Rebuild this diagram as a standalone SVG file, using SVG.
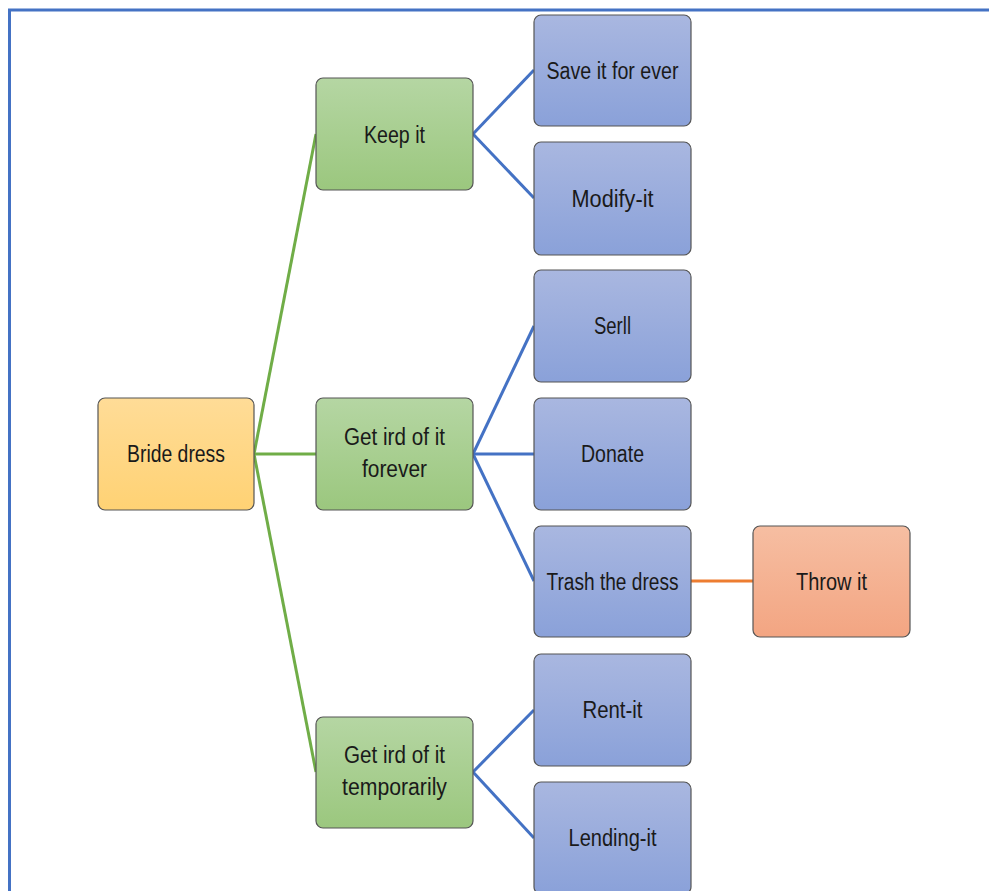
<svg xmlns="http://www.w3.org/2000/svg" width="989" height="891" viewBox="0 0 989 891">
<defs>
<linearGradient id="gy" x1="0" y1="0" x2="0" y2="1"><stop offset="0" stop-color="#FFDC97"/><stop offset="1" stop-color="#FFD274"/></linearGradient>
<linearGradient id="gg" x1="0" y1="0" x2="0" y2="1"><stop offset="0" stop-color="#B5D6A3"/><stop offset="1" stop-color="#9BC77E"/></linearGradient>
<linearGradient id="gb" x1="0" y1="0" x2="0" y2="1"><stop offset="0" stop-color="#A9B7E0"/><stop offset="1" stop-color="#8AA1D9"/></linearGradient>
<linearGradient id="go" x1="0" y1="0" x2="0" y2="1"><stop offset="0" stop-color="#F6BEA2"/><stop offset="1" stop-color="#F3A582"/></linearGradient>
</defs>
<style>
.n{stroke:#555555;stroke-width:1.2}
.t{font-family:"Liberation Sans",Arial,sans-serif;font-size:23px;fill:#1a1a1a;text-anchor:middle}
.cg{stroke:#70AD47;stroke-width:3;fill:none}
.cb{stroke:#4472C4;stroke-width:3;fill:none}
.co{stroke:#ED7D31;stroke-width:3;fill:none}
</style>
<rect width="989" height="891" fill="#ffffff"/>
<g id="frame">
<line x1="8" y1="10" x2="989" y2="10" stroke="#4472C4" stroke-width="3"/>
<line x1="9.5" y1="9" x2="9.5" y2="891" stroke="#4472C4" stroke-width="3"/>
</g>
<g id="connectors">
<line class="cg" x1="254" y1="454" x2="316" y2="134"/>
<line class="cg" x1="254" y1="454" x2="316" y2="454"/>
<line class="cg" x1="254" y1="454" x2="316" y2="772"/>
<line class="cb" x1="473" y1="134" x2="534" y2="70"/>
<line class="cb" x1="473" y1="134" x2="534" y2="198"/>
<line class="cb" x1="473" y1="454" x2="534" y2="326"/>
<line class="cb" x1="473" y1="454" x2="534" y2="454"/>
<line class="cb" x1="473" y1="454" x2="534" y2="581"/>
<line class="cb" x1="473" y1="772" x2="534" y2="710"/>
<line class="cb" x1="473" y1="772" x2="534" y2="838"/>
<line class="co" x1="691" y1="581" x2="753" y2="581"/>
</g>
<g id="bride-dress"><rect class="n" x="98" y="398" width="156" height="112" rx="7" fill="url(#gy)"/><text class="t" x="176" y="462" textLength="98" lengthAdjust="spacingAndGlyphs">Bride dress</text></g>
<g id="keep-it"><rect class="n" x="316" y="78" width="157" height="112" rx="7" fill="url(#gg)"/><text class="t" x="394.5" y="143" textLength="61" lengthAdjust="spacingAndGlyphs">Keep it</text></g>
<g id="get-rid-forever"><rect class="n" x="316" y="398" width="157" height="112" rx="7" fill="url(#gg)"/><text class="t" x="394.5" y="445" textLength="101" lengthAdjust="spacingAndGlyphs">Get ird of it</text><text class="t" x="394.5" y="477" textLength="65" lengthAdjust="spacingAndGlyphs">forever</text></g>
<g id="get-rid-temporarily"><rect class="n" x="316" y="717" width="157" height="111" rx="7" fill="url(#gg)"/><text class="t" x="394.5" y="763" textLength="101" lengthAdjust="spacingAndGlyphs">Get ird of it</text><text class="t" x="394.5" y="795" textLength="105" lengthAdjust="spacingAndGlyphs">temporarily</text></g>
<g id="save-it"><rect class="n" x="534" y="15" width="157" height="111" rx="7" fill="url(#gb)"/><text class="t" x="612.5" y="79" textLength="132" lengthAdjust="spacingAndGlyphs">Save it for ever</text></g>
<g id="modify-it"><rect class="n" x="534" y="142" width="157" height="113" rx="7" fill="url(#gb)"/><text class="t" x="612.5" y="207" textLength="82" lengthAdjust="spacingAndGlyphs">Modify-it</text></g>
<g id="serll"><rect class="n" x="534" y="270" width="157" height="112" rx="7" fill="url(#gb)"/><text class="t" x="612.5" y="334" textLength="37" lengthAdjust="spacingAndGlyphs">Serll</text></g>
<g id="donate"><rect class="n" x="534" y="398" width="157" height="112" rx="7" fill="url(#gb)"/><text class="t" x="612.5" y="462" textLength="63" lengthAdjust="spacingAndGlyphs">Donate</text></g>
<g id="trash-the-dress"><rect class="n" x="534" y="526" width="157" height="111" rx="7" fill="url(#gb)"/><text class="t" x="612.5" y="590" textLength="132" lengthAdjust="spacingAndGlyphs">Trash the dress</text></g>
<g id="throw-it"><rect class="n" x="753" y="526" width="157" height="111" rx="7" fill="url(#go)"/><text class="t" x="831.5" y="590" textLength="71" lengthAdjust="spacingAndGlyphs">Throw it</text></g>
<g id="rent-it"><rect class="n" x="534" y="654" width="157" height="112" rx="7" fill="url(#gb)"/><text class="t" x="612.5" y="718" textLength="60" lengthAdjust="spacingAndGlyphs">Rent-it</text></g>
<g id="lending-it"><rect class="n" x="534" y="782" width="157" height="112" rx="7" fill="url(#gb)"/><text class="t" x="612.5" y="846" textLength="88" lengthAdjust="spacingAndGlyphs">Lending-it</text></g>
</svg>
